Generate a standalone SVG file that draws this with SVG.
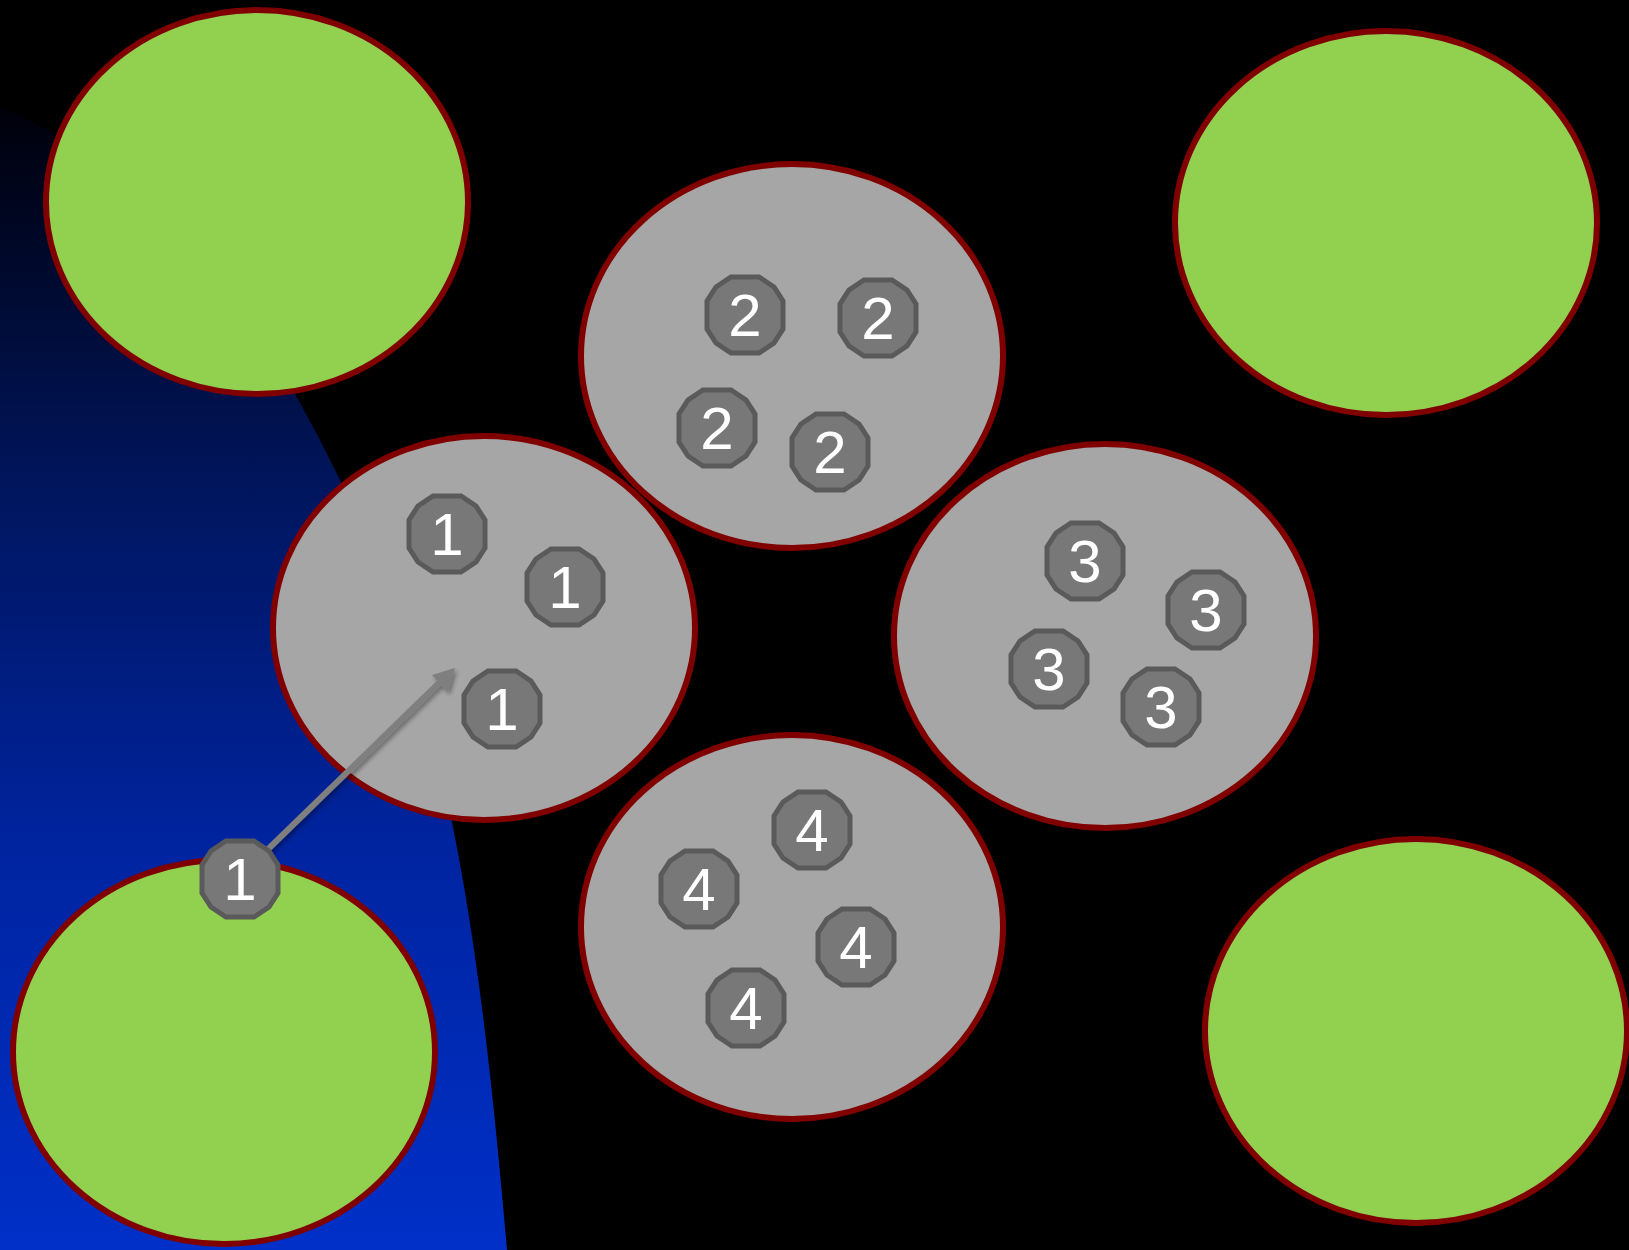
<svg xmlns="http://www.w3.org/2000/svg" width="1629" height="1250" viewBox="0 0 1629 1250">
  <defs>
    <linearGradient id="blueGrad" gradientUnits="userSpaceOnUse" x1="0" y1="100" x2="0" y2="1250">
      <stop offset="0" stop-color="#000008"/>
      <stop offset="0.35" stop-color="#001660"/>
      <stop offset="0.65" stop-color="#0024a0"/>
      <stop offset="1" stop-color="#0030c8"/>
    </linearGradient>
    <polygon id="dodec" points="-14,-38 14,-38 29,-28 38,-14 38,14 29,28 14,38 -14,38 -29,28 -38,14 -38,-14 -29,-28"/>
    <filter id="shadow" x="-20%" y="-20%" width="140%" height="140%">
      <feGaussianBlur in="SourceAlpha" stdDeviation="2"/>
      <feOffset dx="2" dy="3" result="b"/>
      <feComponentTransfer><feFuncA type="linear" slope="0.35"/></feComponentTransfer>
      <feMerge><feMergeNode/><feMergeNode in="SourceGraphic"/></feMerge>
    </filter>
  </defs>
  <style>
    .green { fill: #92d050; stroke: #800000; stroke-width: 6; }
    .gray { fill: #a6a6a6; stroke: #800000; stroke-width: 6; }
    .tok use { fill: #787878; stroke: #5a5a5a; stroke-width: 5; }
    .tok text { font-family: "Liberation Sans", Arial, sans-serif; font-size: 60px; fill: #ffffff; text-anchor: middle; }
    .conn line { stroke: #7f7f7f; stroke-width: 6; }
    .conn polygon { fill: #7f7f7f; }
  </style>

  <rect x="0" y="0" width="1629" height="1250" fill="#000000"/>
  <path id="bluefield" d="M0,107 C167,175 261,318 340,480 C450,705 481,951 507,1250 L0,1250 Z" fill="url(#blueGrad)"/>

  <g id="green-top-left"><ellipse class="green" cx="257" cy="202" rx="211" ry="192"/></g>
  <g id="green-top-right"><ellipse class="green" cx="1386" cy="223" rx="211" ry="192"/></g>
  <g id="green-bottom-left"><ellipse class="green" cx="224" cy="1052" rx="211" ry="192"/></g>
  <g id="green-bottom-right"><ellipse class="green" cx="1416" cy="1031" rx="211" ry="192"/></g>

  <g id="group-2"><ellipse class="gray" cx="792" cy="356" rx="211" ry="192"/></g>
  <g id="group-1"><ellipse class="gray" cx="484" cy="628" rx="211" ry="192"/></g>
  <g id="group-3"><ellipse class="gray" cx="1105" cy="636" rx="211" ry="192"/></g>
  <g id="group-4"><ellipse class="gray" cx="792" cy="927" rx="211" ry="192"/></g>

  <g id="connectors" class="conn" filter="url(#shadow)">
    <line x1="262" y1="855" x2="441" y2="681"/>
    <polygon points="455,668 448,692 440,684 432,675"/>
  </g>

  <g class="tok">
    <g id="t2a" transform="translate(745,315)"><use href="#dodec"/><text y="21">2</text></g>
    <g id="t2b" transform="translate(878,318)"><use href="#dodec"/><text y="21">2</text></g>
    <g id="t2c" transform="translate(717,428)"><use href="#dodec"/><text y="21">2</text></g>
    <g id="t2d" transform="translate(830,452)"><use href="#dodec"/><text y="21">2</text></g>

    <g id="t1a" transform="translate(447,534)"><use href="#dodec"/><text y="21">1</text></g>
    <g id="t1b" transform="translate(565,587)"><use href="#dodec"/><text y="21">1</text></g>
    <g id="t1c" transform="translate(502,709)"><use href="#dodec"/><text y="21">1</text></g>
    <g id="t1d" transform="translate(240,879)"><use href="#dodec"/><text y="21">1</text></g>

    <g id="t3a" transform="translate(1085,561)"><use href="#dodec"/><text y="21">3</text></g>
    <g id="t3b" transform="translate(1206,610)"><use href="#dodec"/><text y="21">3</text></g>
    <g id="t3c" transform="translate(1049,669)"><use href="#dodec"/><text y="21">3</text></g>
    <g id="t3d" transform="translate(1161,707)"><use href="#dodec"/><text y="21">3</text></g>

    <g id="t4a" transform="translate(812,830)"><use href="#dodec"/><text y="21">4</text></g>
    <g id="t4b" transform="translate(699,889)"><use href="#dodec"/><text y="21">4</text></g>
    <g id="t4c" transform="translate(856,947)"><use href="#dodec"/><text y="21">4</text></g>
    <g id="t4d" transform="translate(746,1008)"><use href="#dodec"/><text y="21">4</text></g>
  </g>
</svg>
